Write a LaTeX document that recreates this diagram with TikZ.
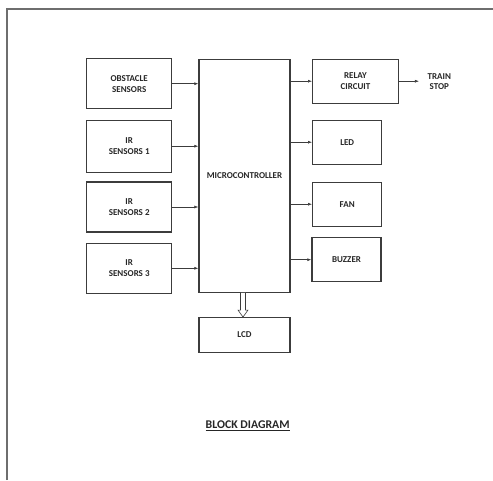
\documentclass[tikz,border=0pt]{standalone}
\usepackage{fontspec}
\setmainfont{Carlito}
\usepackage{tikz}
\usetikzlibrary{arrows.meta,positioning,calc}
\definecolor{boxline}{RGB}{60,60,60}
\definecolor{frameline}{RGB}{110,110,110}

\begin{document}
\begin{tikzpicture}[
      x=1pt, y=-1pt,
      font=\fontsize{9}{10.8}\selectfont\bfseries,
      blk/.style={draw=boxline, line width=1.3pt, align=center,
                  text=black!85, inner sep=1pt},
      inbox/.style={blk, minimum width=85pt, minimum height=50pt},
      outbox/.style={blk, minimum width=69pt, minimum height=44pt},
      arr/.style={-{Latex[length=4pt,width=3pt]}, line width=0.6pt, boxline},
      hollow/.style={draw=boxline, line width=0.6pt, fill=white},
    ]
      \useasboundingbox (0,0) rectangle (493,480);
      % page frame (only top and left edge visible)
      \draw[frameline, line width=1.8pt] (7,480) -- (7,9) -- (493,9);

      % Inputs
      \node[inbox] (obs) at (129.2, 83.7) {OBSTACLE\\SENSORS};
      \node[inbox, minimum height=52pt] (ir1) at (129.2, 146.2) {IR\\SENSORS 1};
      \node[inbox] (ir2) at (129.2, 207.0) {IR\\SENSORS 2};
      \node[inbox] (ir3) at (129.2, 268.3) {IR\\SENSORS 3};

      % Controller
      \node[blk, minimum width=91pt, minimum height=233pt] (mcu) at (244.5, 175.7)
            {MICROCONTROLLER};

      % Outputs
      \node[blk, minimum width=85.6pt, minimum height=44pt] (relay) at (355.5, 81.2)
            {RELAY\\CIRCUIT};
      \node[outbox] (led) at (347.2, 142.2) {LED};
      \node[outbox] (fan) at (347.2, 204.2) {FAN};
      \node[outbox] (buz) at (346.5, 259.7) {BUZZER};
      \node[blk, minimum width=91pt, minimum height=34.6pt] (lcd) at (244.5, 335.0) {LCD};
      \node[align=center, text=black!85] (stop) at (439.3, 81.7) {TRAIN\\STOP};

      % Title
      \node[font=\fontsize{11.8}{13}\selectfont\bfseries, text=black!85] (title)
            at (247.7, 425.7) {\underline{BLOCK DIAGRAM}};

      % Arrows
      \draw[arr] (obs.east) -- (obs.east -| mcu.west);
      \draw[arr] (ir1.east) -- (ir1.east -| mcu.west);
      \draw[arr] (ir2.east) -- (ir2.east -| mcu.west);
      \draw[arr] (ir3.east) -- (ir3.east -| mcu.west);
      \draw[arr] (mcu.east |- relay.west) -- (relay.west);
      \draw[arr] (mcu.east |- led.west) -- (led.west);
      \draw[arr] (mcu.east |- fan.west) -- (fan.west);
      \draw[arr] (mcu.east |- buz.west) -- (buz.west);
      \draw[arr] (relay.east) -- ++(20,0) coordinate (ts);
      \draw[hollow] ($(mcu.south)+(-4,0)$) -- ($(lcd.north)+(-4,-7)$)
            -- ($(lcd.north)+(-6.5,-7)$) -- ($(lcd.north)+(-1.5,0)$)
            -- ($(lcd.north)+(3.5,-7)$) -- ($(lcd.north)+(1,-7)$)
            -- ($(mcu.south)+(1,0)$);
    \end{tikzpicture}
\end{document}
